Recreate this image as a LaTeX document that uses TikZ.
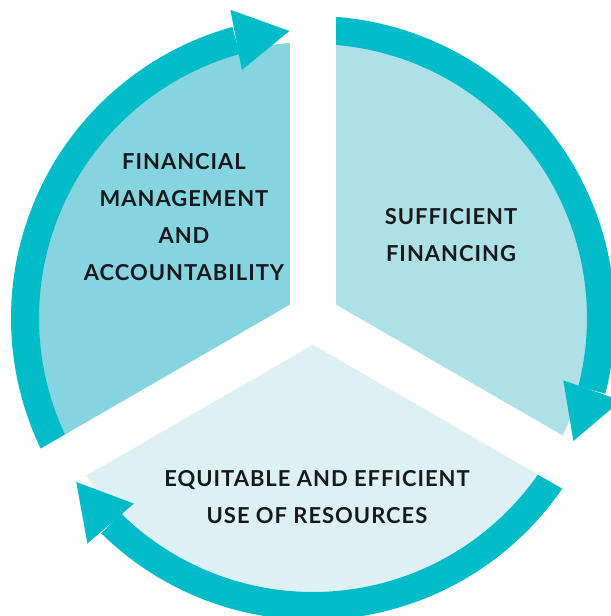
\documentclass[tikz,border=0pt]{standalone}
\usepackage{fontspec}
\setmainfont{Lato}[LetterSpace=4.5]

\definecolor{ringblue}{HTML}{00BCC8}
\definecolor{leftfill}{HTML}{86D4DF}
\definecolor{rightfill}{HTML}{AEE0E8}
\definecolor{lowfill}{HTML}{DDF0F4}

\tikzset{
  band/.style={fill=ringblue},
  gapline/.style={draw=white,line width=0.92cm},
  sectortext/.style={align=center,text=black!90,
    font=\bfseries\fontsize{12.5}{21}\selectfont}
}

\begin{document}
\begin{tikzpicture}[x=0.02cm,y=0.02cm]
  % frame of the picture (pixels, centre of the wheel at 0,0)
  \clip (-313,-298) rectangle (298,318);
  \fill[white] (-313,-298) rectangle (298,318);

  % sectors
  \foreach \a/\c in {90/leftfill,-30/rightfill,210/lowfill}
    \fill[fill=\c] (0,0) -- (\a:276) arc ({\a}:{\a+120}:276) -- cycle;

  % outer bands
  \foreach \a in {90,-30,210}
    \fill[band] ({\a+15.5}:302) arc ({\a+15.5}:{\a+120}:302)
      -- ({\a+120}:274) arc ({\a+120}:{\a+15.5}:274) -- cycle;

  % white gaps
  \foreach \a in {90,-30,210}
    \draw[gapline] (0,0) -- (\a:340);

  % arrow heads
  \foreach \a in {90,-30,210}
    \fill[band] ({\a+4.7}:288) -- ({\a+15}:319) -- ({\a+16}:258) -- cycle;

  % labels
  \node[sectortext] (fin)  at (-129,101) {FINANCIAL\\MANAGEMENT\\AND\\ACCOUNTABILITY};
  \node[sectortext] (suff) at (138,83)   {SUFFICIENT\\FINANCING};
  \node[sectortext] (equi) at (4,-179)   {EQUITABLE AND EFFICIENT\\USE OF RESOURCES};
\end{tikzpicture}
\end{document}
